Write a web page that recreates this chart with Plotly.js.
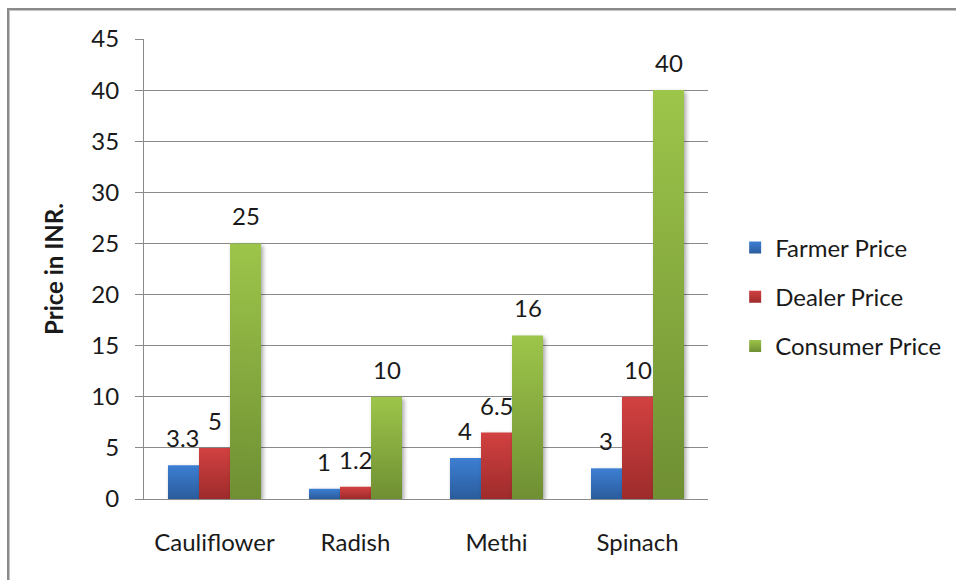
<!DOCTYPE html>
<html>
<head>
<meta charset="utf-8">
<script src="https://cdn.plot.ly/plotly-3.0.1.min.js"></script>
<style>
  html, body { margin: 0; padding: 0; background: #ffffff; }
  #wrap { position: relative; width: 956px; height: 580px; overflow: hidden; }
  #chart { width: 956px; height: 580px; }
  #frame {
    position: absolute; left: 7px; top: 8px; width: 1100px; height: 800px;
    border-top: 2px solid #8a8a8a; border-left: 2px solid #8a8a8a;
    box-shadow: inset 1px 1px 0 #c4c4c4;
    pointer-events: none;
  }
  .barlayer path { filter: drop-shadow(2px 2px 2px rgba(0,0,0,0.35)); }
</style>
</head>
<body>
<div id="wrap">
  <div id="chart"></div>
  <div id="frame"></div>
</div>
<svg width="0" height="0" style="position:absolute">
  <defs>
    <linearGradient id="gradFarmer" x1="0" y1="0" x2="0" y2="1">
      <stop offset="0" stop-color="#3d7fd3"/>
      <stop offset="1" stop-color="#2a5c9c"/>
    </linearGradient>
    <linearGradient id="gradDealer" x1="0" y1="0" x2="0" y2="1">
      <stop offset="0" stop-color="#d24141"/>
      <stop offset="1" stop-color="#9e2b2b"/>
    </linearGradient>
    <linearGradient id="gradConsumer" x1="0" y1="0" x2="0" y2="1">
      <stop offset="0" stop-color="#9dc54a"/>
      <stop offset="1" stop-color="#6f8f33"/>
    </linearGradient>
  </defs>
</svg>
<script>
// Vegetable prices along the supply chain
const categories = ['Cauliflower', 'Radish', 'Methi', 'Spinach'];
const seriesNames = ['Farmer Price', 'Dealer Price', 'Consumer Price'];
const farmerPrice = [3.3, 1, 4, 3];
const dealerPrice = [5, 1.2, 6.5, 10];
const consumerPrice = [25, 10, 16, 40];
const yTicks = [0, 5, 10, 15, 20, 25, 30, 35, 40, 45];

const seriesValues = [farmerPrice, dealerPrice, consumerPrice];
const baseColors = ['#3569b5', '#c0393a', '#8bb23f'];
const gradientIds = ['gradFarmer', 'gradDealer', 'gradConsumer'];

const FONT = 'Lato, "Open Sans", sans-serif';
const FS = 24;
const TEXT = '#1a1a1a';
const GRID = '#8a8a8a';
const BARGAP = 0.34;
const barWidth = (1 - BARGAP) / seriesValues.length;

const traces = seriesValues.map((vals, s) => ({
  type: 'bar',
  name: seriesNames[s],
  x: categories,
  y: vals,
  legendgroup: 'g' + s,
  marker: { color: baseColors[s], line: { width: 0 } },
  hoverinfo: 'none'
}));

// Value labels sit above each bar, one per data point
const annotations = [];
seriesValues.forEach((vals, s) => {
  vals.forEach((v, i) => {
    annotations.push({
      x: i + (s - (seriesValues.length - 1) / 2) * barWidth,
      y: v,
      xref: 'x', yref: 'y',
      text: String(v),
      showarrow: false,
      yanchor: 'bottom',
      yshift: 11,
      font: { family: FONT, size: FS, color: TEXT }
    });
  });
});

const layout = {
  width: 956,
  height: 580,
  margin: { l: 144, r: 248, t: 39, b: 81 },
  paper_bgcolor: '#ffffff',
  plot_bgcolor: '#ffffff',
  barmode: 'group',
  bargap: BARGAP,
  bargroupgap: 0,
  font: { family: FONT, size: FS, color: TEXT },
  showlegend: true,
  legend: {
    xref: 'container', yref: 'container',
    x: 0.769, y: 0.488, xanchor: 'left', yanchor: 'middle',
    font: { family: FONT, size: FS, color: TEXT },
    tracegroupgap: 15,
    itemclick: false, itemdoubleclick: false,
    bgcolor: 'rgba(0,0,0,0)'
  },
  xaxis: {
    type: 'category',
    showgrid: false,
    showline: true, linecolor: GRID, linewidth: 1,
    ticks: '',
    ticklabelstandoff: 22,
    tickfont: { family: FONT, size: FS, color: TEXT },
    fixedrange: true
  },
  yaxis: {
    range: [0, 45],
    tickvals: yTicks,
    ticktext: yTicks.map(String),
    showgrid: true, gridcolor: GRID, gridwidth: 1,
    showline: true, linecolor: GRID, linewidth: 1,
    ticks: 'outside', ticklen: 8, tickcolor: GRID,
    ticklabelstandoff: 11,
    zeroline: false,
    tickfont: { family: FONT, size: FS, color: TEXT },
    title: {
      text: '<b>Price in INR.</b>',
      font: { family: FONT, size: 24, color: TEXT },
      standoff: 20
    },
    fixedrange: true
  },
  annotations: annotations
};

function applyGradients(gd) {
  const traceGroups = gd.querySelectorAll('.barlayer .trace.bars');
  traceGroups.forEach((g, s) => {
    g.querySelectorAll('path').forEach(p => {
      p.style.fill = 'url(#' + gradientIds[s] + ')';
    });
  });
  const legendTraces = gd.querySelectorAll('.legend .traces');
  legendTraces.forEach((g, s) => {
    g.querySelectorAll('.legendpoints path').forEach(p => {
      p.style.fill = 'url(#' + gradientIds[s] + ')';
      p.style.stroke = 'none';
    });
  });
}

Plotly.newPlot('chart', traces, layout, { displayModeBar: false, staticPlot: true })
  .then(applyGradients);
</script>
</body>
</html>
